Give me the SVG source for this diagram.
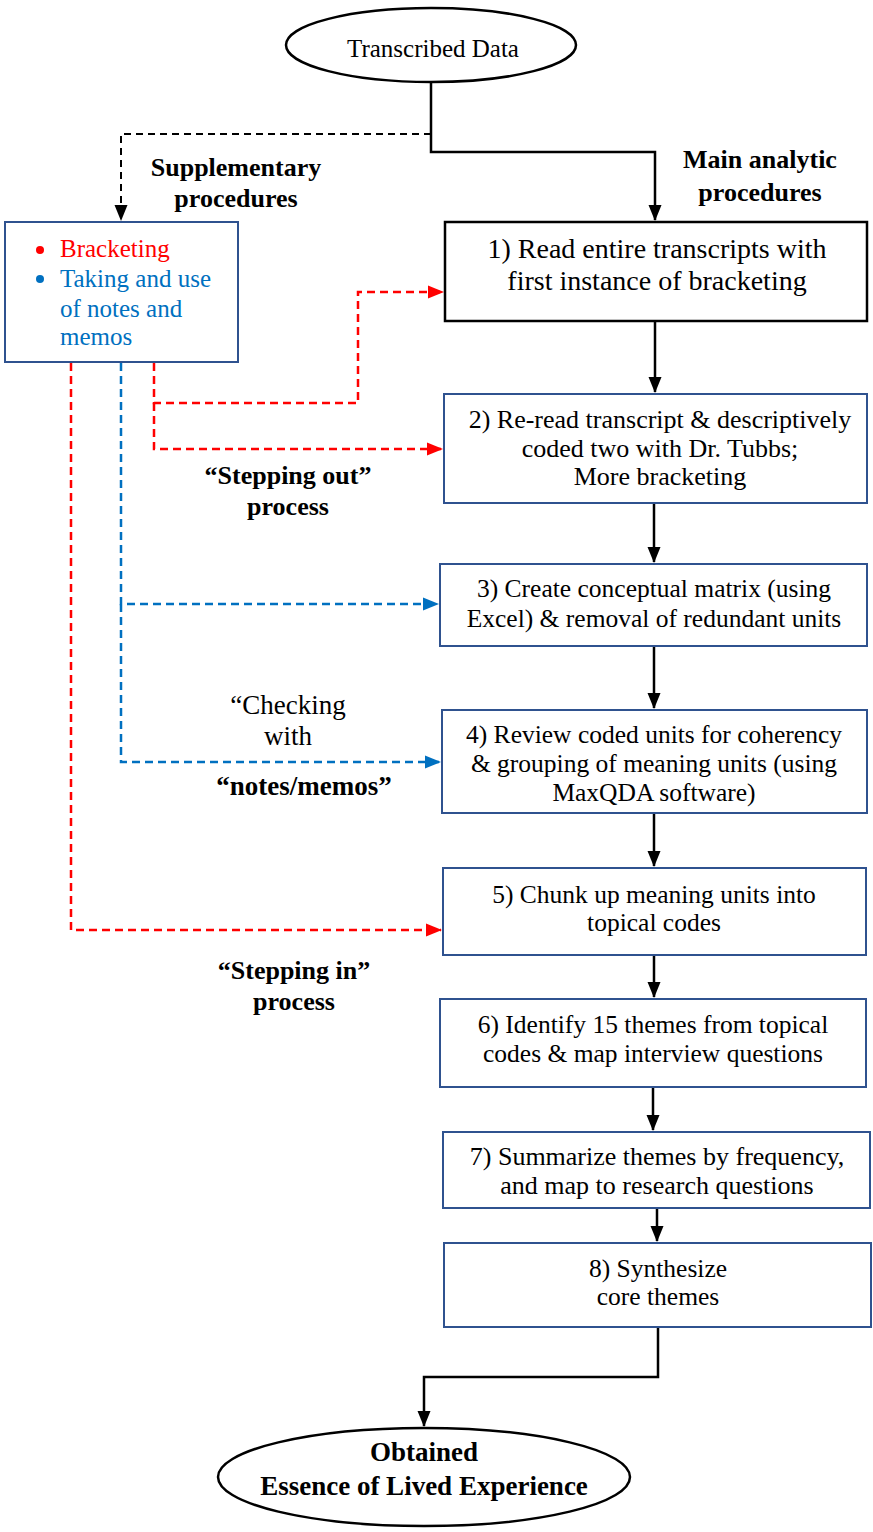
<svg xmlns="http://www.w3.org/2000/svg" width="873" height="1532" viewBox="0 0 873 1532" font-family="Liberation Serif, serif">
<defs>
<style>
text{fill:#000}
.box{fill:#fff;stroke:#2F528F;stroke-width:2}
.kbox{fill:#fff;stroke:#000;stroke-width:2.5}
.ell{fill:#fff;stroke:#000;stroke-width:2.5}
.solid{fill:none;stroke:#000;stroke-width:2.5}
.kd{fill:none;stroke:#000;stroke-width:2;stroke-dasharray:7,5}
.rd{fill:none;stroke:#FF0000;stroke-width:2.5;stroke-dasharray:8,5}
.bd{fill:none;stroke:#0070C0;stroke-width:2.5;stroke-dasharray:8,5}
.t{font-size:25.5px;text-anchor:middle}
.b{font-family:'Liberation Serif',serif;font-weight:bold;font-size:26px;text-anchor:middle}
</style>
<marker id="ak" markerUnits="userSpaceOnUse" markerWidth="16" markerHeight="16" viewBox="0 0 16 16" refX="15" refY="8" orient="auto"><path d="M0,1.5 L16,8 L0,14.5 Z" fill="#000"/></marker>
<marker id="ar" markerUnits="userSpaceOnUse" markerWidth="16" markerHeight="16" viewBox="0 0 16 16" refX="15" refY="8" orient="auto"><path d="M0,1.5 L16,8 L0,14.5 Z" fill="#FF0000"/></marker>
<marker id="ab" markerUnits="userSpaceOnUse" markerWidth="16" markerHeight="16" viewBox="0 0 16 16" refX="15" refY="8" orient="auto"><path d="M0,1.5 L16,8 L0,14.5 Z" fill="#0070C0"/></marker>
</defs>
<rect width="873" height="1532" fill="#fff"/>
<g id="connectors">
<path class="solid" d="M431,82 V152 H655 V220" marker-end="url(#ak)"/>
<path class="kd" d="M431,134 H121 V220" marker-end="url(#ak)"/>
<path class="solid" d="M655,321 V392" marker-end="url(#ak)"/>
<path class="solid" d="M654,503 V562" marker-end="url(#ak)"/>
<path class="solid" d="M654,646 V708" marker-end="url(#ak)"/>
<path class="solid" d="M654,813 V866" marker-end="url(#ak)"/>
<path class="solid" d="M654,955 V997" marker-end="url(#ak)"/>
<path class="solid" d="M653,1087 V1130" marker-end="url(#ak)"/>
<path class="solid" d="M657,1208 V1241" marker-end="url(#ak)"/>
<path class="solid" d="M658,1327 V1377 H424 V1426" marker-end="url(#ak)"/>
<path class="rd" d="M154,363 V403 H358 V292 H443" marker-end="url(#ar)"/>
<path class="rd" d="M154,403 V449 H442" marker-end="url(#ar)"/>
<path class="rd" d="M71,363 V930 H441" marker-end="url(#ar)"/>
<path class="bd" d="M121,363 V604 H438" marker-end="url(#ab)"/>
<path class="bd" d="M121,604 V762 H440" marker-end="url(#ab)"/>
</g>
<g id="start" font-family="Liberation Serif">
<ellipse class="ell" cx="431" cy="45" rx="145" ry="37"/>
<text x="433" y="57" style="font-size:25px;text-anchor:middle">Transcribed Data</text>
</g>
<g id="label-supplementary">
<text class="b" x="236" y="176">Supplementary</text>
<text class="b" x="236" y="207">procedures</text>
</g>
<g id="label-main">
<text class="b" x="760" y="168">Main analytic</text>
<text class="b" x="760" y="201">procedures</text>
</g>
<g id="supplementary" font-family="Liberation Serif">
<rect class="box" x="5" y="222" width="233" height="140"/>
<circle cx="40" cy="250" r="4" fill="#FF0000"/>
<text x="60" y="257" style="font-size:25px;fill:#FF0000">Bracketing</text>
<circle cx="40" cy="279" r="4" fill="#0070C0"/>
<text x="60" y="287" style="font-size:25px;fill:#0070C0">Taking and use</text>
<text x="60" y="317" style="font-size:25px;fill:#0070C0">of notes and</text>
<text x="60" y="345" style="font-size:25px;fill:#0070C0">memos</text>
</g>
<g id="step1" font-family="Liberation Serif">
<rect class="kbox" x="445" y="222" width="422" height="99"/>
<text x="657" y="258" style="font-size:28px;text-anchor:middle">1) Read entire transcripts with</text>
<text x="657" y="290" style="font-size:28px;text-anchor:middle">first instance of bracketing</text>
</g>
<g id="step2" font-family="Liberation Serif">
<rect class="box" x="444" y="394" width="423" height="109"/>
<text class="t" x="660" y="428" style="font-size:26px">2) Re-read transcript &amp; descriptively</text>
<text class="t" x="660" y="457" style="font-size:26px">coded two with Dr. Tubbs;</text>
<text class="t" x="660" y="485" style="font-size:26px">More bracketing</text>
</g>
<g id="step3" font-family="Liberation Serif">
<rect class="box" x="440" y="564" width="427" height="82"/>
<text class="t" x="654" y="597">3) Create conceptual matrix (using</text>
<text class="t" x="654" y="627">Excel) &amp; removal of redundant units</text>
</g>
<g id="step4" font-family="Liberation Serif">
<rect class="box" x="442" y="710" width="425" height="103"/>
<text class="t" x="654" y="743">4) Review coded units for coherency</text>
<text class="t" x="654" y="772">&amp; grouping of meaning units (using</text>
<text class="t" x="654" y="801">MaxQDA software)</text>
</g>
<g id="step5" font-family="Liberation Serif">
<rect class="box" x="443" y="868" width="423" height="87"/>
<text class="t" x="654" y="903">5) Chunk up meaning units into</text>
<text class="t" x="654" y="931">topical codes</text>
</g>
<g id="step6" font-family="Liberation Serif">
<rect class="box" x="440" y="999" width="426" height="88"/>
<text class="t" x="653" y="1033">6) Identify 15 themes from topical</text>
<text class="t" x="653" y="1062">codes &amp; map interview questions</text>
</g>
<g id="step7" font-family="Liberation Serif">
<rect class="box" x="443" y="1132" width="427" height="76"/>
<text class="t" x="657" y="1165" style="font-size:26px">7) Summarize themes by frequency,</text>
<text class="t" x="657" y="1194" style="font-size:26px">and map to research questions</text>
</g>
<g id="step8" font-family="Liberation Serif">
<rect class="box" x="444" y="1243" width="427" height="84"/>
<text class="t" x="658" y="1277">8) Synthesize</text>
<text class="t" x="658" y="1305">core themes</text>
</g>
<g id="label-stepping-out">
<text class="b" x="288" y="484">“Stepping out”</text>
<text class="b" x="288" y="515">process</text>
</g>
<g id="label-checking" font-family="Liberation Serif">
<text x="288" y="714" style="font-size:27px;text-anchor:middle">“Checking</text>
<text x="288" y="745" style="font-size:27px;text-anchor:middle">with</text>
<text class="b" x="304" y="795" style="font-size:27px">“notes/memos”</text>
</g>
<g id="label-stepping-in">
<text class="b" x="294" y="979">“Stepping in”</text>
<text class="b" x="294" y="1010">process</text>
</g>
<g id="end">
<ellipse class="ell" cx="424" cy="1477" rx="206" ry="49"/>
<text class="b" x="424" y="1461" style="font-size:27px">Obtained</text>
<text class="b" x="424" y="1495" style="font-size:27px">Essence of Lived Experience</text>
</g>
</svg>
